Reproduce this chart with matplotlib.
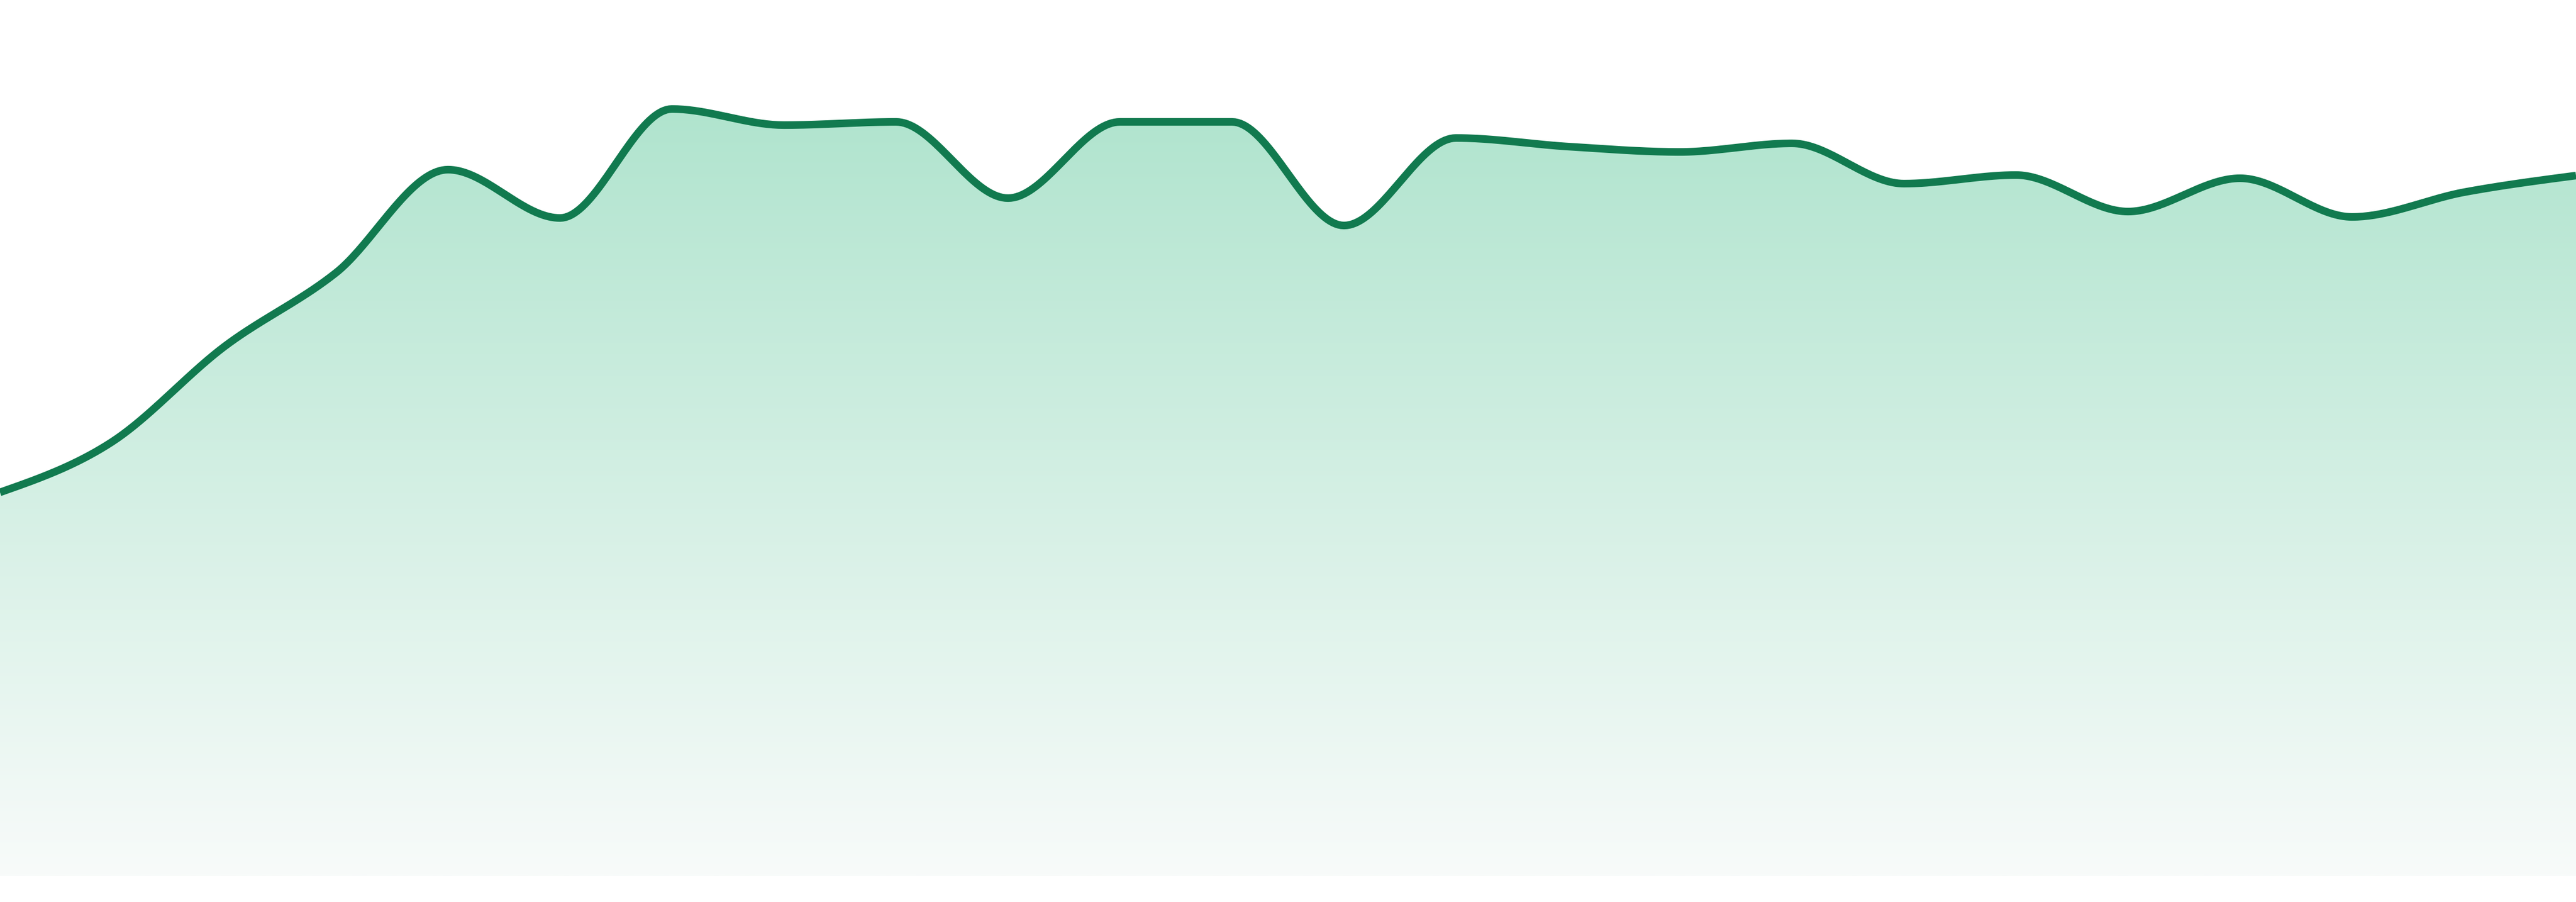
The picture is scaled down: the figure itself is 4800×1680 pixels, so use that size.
import numpy as np
import matplotlib.pyplot as plt
from matplotlib.patches import Polygon

# values (one point per step, 24 steps)
steps = np.arange(24)
values = [71.5, 80.9, 98.6, 112.4, 131.6, 122.6, 142.9, 139.9,
          140.5, 126.3, 140.5, 140.5, 121.2, 137.5, 135.9, 134.9,
          136.5, 129.0, 130.6, 123.8, 130.0, 122.8, 127.4, 130.5]

line_color = '#117a4f'
top_rgb = np.array([176, 228, 206]) / 255
bottom_rgb = np.array([248, 251, 250]) / 255


def monotone_x(x, y, n=40):
    # monotone cubic interpolation, same rule as d3.curveMonotoneX
    x = np.asarray(x, float)
    y = np.asarray(y, float)
    h = np.diff(x)
    s = np.diff(y) / h
    t = np.zeros_like(y)
    for i in range(1, len(y) - 1):
        p = (s[i - 1] * h[i] + s[i] * h[i - 1]) / (h[i - 1] + h[i])
        t[i] = (np.sign(s[i - 1]) + np.sign(s[i])) * min(
            abs(s[i - 1]), abs(s[i]), 0.5 * abs(p))
    t[0] = (3 * s[0] - t[1]) / 2
    t[-1] = (3 * s[-1] - t[-2]) / 2
    xs, ys = [], []
    for i in range(len(h)):
        u = np.linspace(0, 1, n, endpoint=False)
        h00 = 2 * u**3 - 3 * u**2 + 1
        h10 = u**3 - 2 * u**2 + u
        h01 = -2 * u**3 + 3 * u**2
        h11 = u**3 - u**2
        xs.append(x[i] + u * h[i])
        ys.append(h00 * y[i] + h10 * h[i] * t[i] + h01 * y[i + 1] + h11 * h[i] * t[i + 1])
    xs.append([x[-1]])
    ys.append([y[-1]])
    return np.concatenate(xs), np.concatenate(ys)


xs, ys = monotone_x(steps, values)

fig = plt.figure(figsize=(16, 5.6), dpi=300)
ax = fig.add_axes([0, 48 / 1680, 1, 1632 / 1680])
ax.set_xlim(steps[0], steps[-1])
ax.set_ylim(0, 163.2)
ax.axis('off')

# gradient under the curve
top = max(values)
grad = np.linspace(0, 1, 256)[:, None]
img = top_rgb[None, None, :] * (1 - grad[..., None]) + bottom_rgb[None, None, :] * grad[..., None]
img = np.repeat(img, 2, axis=1)
im = ax.imshow(img, extent=(steps[0], steps[-1], 0, top), aspect='auto',
               origin='upper', interpolation='bilinear', zorder=1)
verts = np.vstack([np.column_stack([xs, ys]),
                   [[xs[-1], 0], [xs[0], 0]]])
clip = Polygon(verts, closed=True, facecolor='none', edgecolor='none',
               transform=ax.transData)
ax.add_patch(clip)
im.set_clip_path(clip)

ax.plot(xs, ys, color=line_color, lw=3.4, solid_capstyle='butt',
        solid_joinstyle='round', zorder=2)

fig.savefig('out.png', dpi=300, facecolor='white')
